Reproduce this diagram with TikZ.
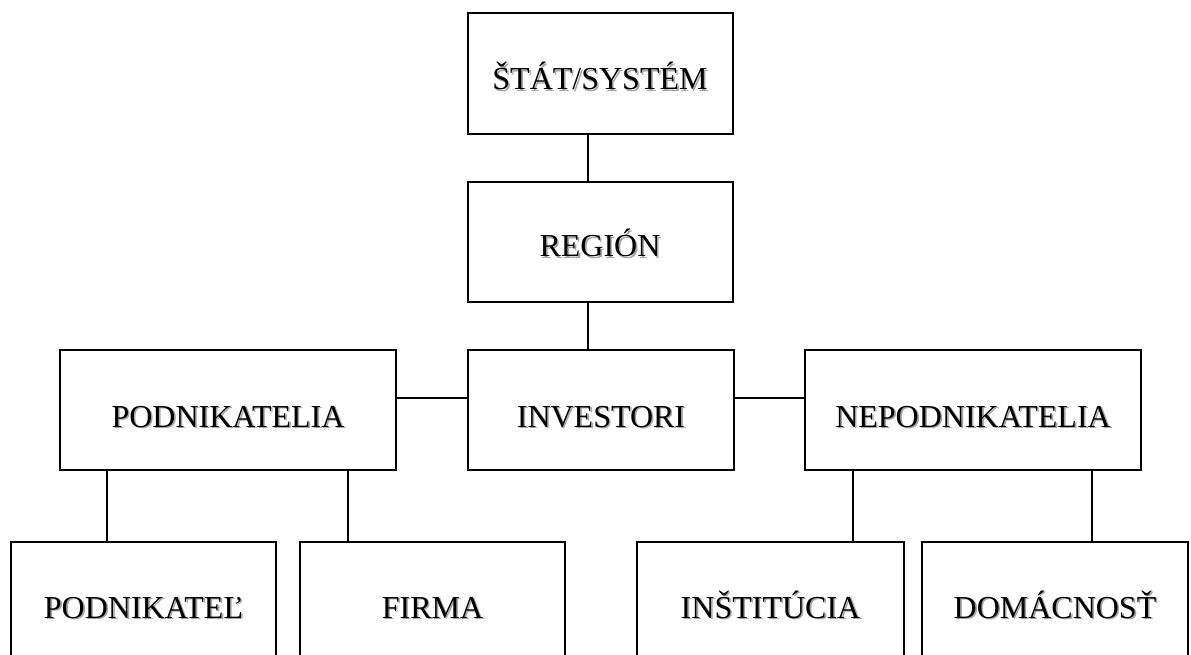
\documentclass[tikz,border=0pt]{standalone}
\usepackage{fontspec}
\setmainfont{Liberation Serif}
\newcommand\shadtxt[1]{\rlap{\kern1.2pt\raisebox{-1.2pt}{\textcolor{black!35}{#1}}}#1}
\begin{document}
\begin{tikzpicture}[x=0.75pt,y=-0.75pt,
  box/.style={draw=black,line width=1.3pt,rectangle,inner sep=0pt,fill=white},
  lbl/.style={anchor=base,inner sep=0pt,font=\fontsize{24}{28}\selectfont},
  conn/.style={draw=black,line width=1.3pt}]
\useasboundingbox (0,0) rectangle (1191,655);
\clip (0,0) rectangle (1191,655);
% boxes
\node[box,minimum width=198.75pt,minimum height=90.75pt] (stat) at (600.5,73.5) {};
\node[box,minimum width=198.75pt,minimum height=90pt] (region) at (600.5,242) {};
\node[box,minimum width=199.5pt,minimum height=90pt] (invest) at (601,410) {};
\node[box,minimum width=252pt,minimum height=90pt] (podn) at (228,410) {};
\node[box,minimum width=252pt,minimum height=90pt] (nepodn) at (973,410) {};
\node[box,minimum width=198.75pt,minimum height=105pt] (podnikatel) at (143.5,612) {};
\node[box,minimum width=198.75pt,minimum height=105pt] (firma) at (432.5,612) {};
\node[box,minimum width=200.25pt,minimum height=105pt] (instit) at (770.5,612) {};
\node[box,minimum width=199.5pt,minimum height=105pt] (domac) at (1055,612) {};
% labels
\node[lbl] (tstat) at (600,90) {\shadtxt{ŠTÁT/SYSTÉM}};
\node[lbl] (tregion) at (600,257) {\shadtxt{REGIÓN}};
\node[lbl] (tinvest) at (601,427) {\shadtxt{INVESTORI}};
\node[lbl] (tpodn) at (228,427) {\shadtxt{PODNIKATELIA}};
\node[lbl] (tnepodn) at (973,427) {\shadtxt{NEPODNIKATELIA}};
\node[lbl] (tpodnikatel) at (143.5,618) {\shadtxt{PODNIKATEĽ}};
\node[lbl] (tfirma) at (432.5,618) {\shadtxt{FIRMA}};
\node[lbl] (tinstit) at (770.5,618) {\shadtxt{INŠTITÚCIA}};
\node[lbl] (tdomac) at (1055,618) {\shadtxt{DOMÁCNOSŤ}};
% connectors
\draw[conn] (stat.south -| 588,0) -- (region.north -| 588,0);
\draw[conn] (region.south -| 588,0) -- (invest.north -| 588,0);
\draw[conn] ([yshift=9pt]podn.east) -- ([yshift=9pt]invest.west);
\draw[conn] ([yshift=9pt]invest.east) -- ([yshift=9pt]nepodn.west);
\draw[conn] (podn.south -| 107,0) -- (podnikatel.north -| 107,0);
\draw[conn] (podn.south -| 348,0) -- (firma.north -| 348,0);
\draw[conn] (nepodn.south -| 853,0) -- (instit.north -| 853,0);
\draw[conn] (nepodn.south -| 1092,0) -- (domac.north -| 1092,0);
\end{tikzpicture}
\end{document}
